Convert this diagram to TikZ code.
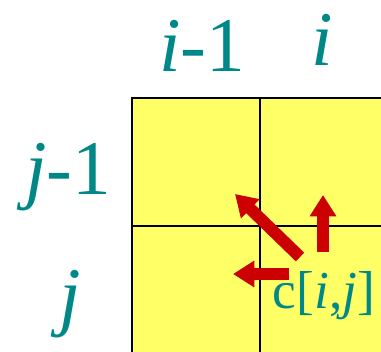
\documentclass[tikz,border=0pt]{standalone}
\usepackage{fontspec}
\setmainfont{Liberation Serif}
\usetikzlibrary{arrows.meta}
\definecolor{idxteal}{RGB}{0,136,136}
\definecolor{movered}{RGB}{204,0,0}
\definecolor{cellyellow}{RGB}{255,255,102}
\begin{document}
\begin{tikzpicture}[
    x=0.75pt, y=-0.75pt,
    grid/.style={
        draw=black,
        line width=2pt
    },
    idx/.style={
        text=idxteal,
        font=\fontsize{58}{60}\selectfont,
        anchor=base,
        inner sep=0pt
    },
    cellname/.style={
        text=idxteal,
        font=\fontsize{40}{42}\selectfont,
        anchor=base,
        inner sep=0pt
    },
    move/.style={
        draw=movered,
        line width=9pt,
        -{Triangle[length=16pt,width=19pt]}
    }
]
    \useasboundingbox (0,0) rectangle (381,352);

    % --- Table cells ---
    \fill [cellyellow] (132,98) rectangle (381,352);
    \draw [grid] (381,98) -- (132,98) -- (132,352);
    \draw [grid] (260,98) -- (260,352);
    \draw [grid] (132,226) -- (381,226);

    % --- Indices ---
    \node [idx] (colprev) at (202,72) {\textit{i}-1};
    \node [idx] (colcur) at (322,66) {\textit{i}};
    \node [idx] (rowprev) at (68,195) {\textit{j}-1};
    \node [idx] (rowcur) at (70,321) {\textit{j}};

    % --- Current cell ---
    \node [cellname] (cij) at (324,308) {c[\textit{i},\textit{j}]};

    % --- Dependencies ---
    \coordinate (diagtail) at (300,257);
    \coordinate (diagtip) at (235,194);
    \coordinate (uptail) at (323,252);
    \coordinate (uptip) at (323,195);
    \coordinate (lefttail) at (289,274);
    \coordinate (lefttip) at (233,274);

    \draw [move] (diagtail) -- (diagtip);
    \draw [move] (uptail) -- (uptip);
    \draw [move] (lefttail) -- (lefttip);

\end{tikzpicture}
\end{document}
